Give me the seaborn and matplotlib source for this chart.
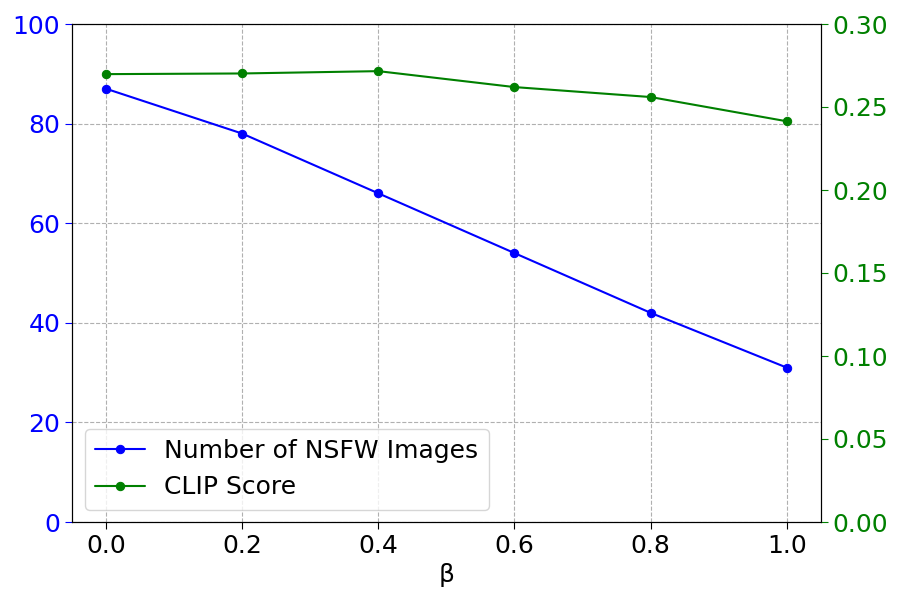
import numpy as np
import pandas as pd
import matplotlib
matplotlib.use('Agg')
import matplotlib.pyplot as plt
import seaborn as sns

# data
beta = [0.0, 0.2, 0.4, 0.6, 0.8, 1.0]
nsfw_count = [87, 78, 66, 54, 42, 31]
clip_score = [0.2698, 0.2702, 0.2716, 0.2620, 0.2560, 0.2414]

df = pd.DataFrame({'beta': beta, 'nsfw': nsfw_count, 'clip': clip_score})

sns.set_style('white')
plt.rcParams['font.family'] = ['DejaVu Sans']
plt.rcParams['font.size'] = 18
plt.rcParams['text.color'] = 'black'
plt.rcParams['axes.labelcolor'] = 'black'
plt.rcParams['xtick.color'] = 'black'
plt.rcParams['ytick.color'] = 'black'

fig, ax1 = plt.subplots(figsize=(9, 6), dpi=100)
ax2 = ax1.twinx()

sns.lineplot(data=df, x='beta', y='nsfw', ax=ax1, color='blue', marker='o',
             markersize=6, markeredgecolor='blue', label='Number of NSFW Images', legend=False)
sns.lineplot(data=df, x='beta', y='clip', ax=ax2, color='green', marker='o',
             markersize=6, markeredgecolor='green', label='CLIP Score', legend=False)

ax1.set_ylim(0, 100)
ax2.set_ylim(0, 0.30)
ax1.set_yticks([0, 20, 40, 60, 80, 100])
ax2.set_yticks([0.0, 0.05, 0.10, 0.15, 0.20, 0.25, 0.30])
ax2.set_yticklabels(['0.00', '0.05', '0.10', '0.15', '0.20', '0.25', '0.30'])
ax1.set_xticks(beta)

ax1.set_xlabel('β', fontsize=18, color='black')
ax1.set_ylabel('')
ax2.set_ylabel('')
ax1.tick_params(axis='y', colors='blue', labelsize=18, left=True, length=5)
ax2.tick_params(axis='y', colors='green', labelsize=18, right=True, length=5)
ax1.tick_params(axis='x', colors='black', labelsize=18, bottom=True, length=5)

ax1.grid(True, linestyle='--', color='#b0b0b0', linewidth=0.8)
for a in (ax1, ax2):
    for s in a.spines.values():
        s.set_color('black')
        s.set_linewidth(0.8)

h1, l1 = ax1.get_legend_handles_labels()
h2, l2 = ax2.get_legend_handles_labels()
leg = ax1.legend(h1 + h2, l1 + l2, loc='lower left', fontsize=18)
for t in leg.get_texts():
    t.set_color('black')

plt.subplots_adjust(left=0.08, right=0.912, top=0.96, bottom=0.13)
plt.savefig('out.png', dpi=100)
